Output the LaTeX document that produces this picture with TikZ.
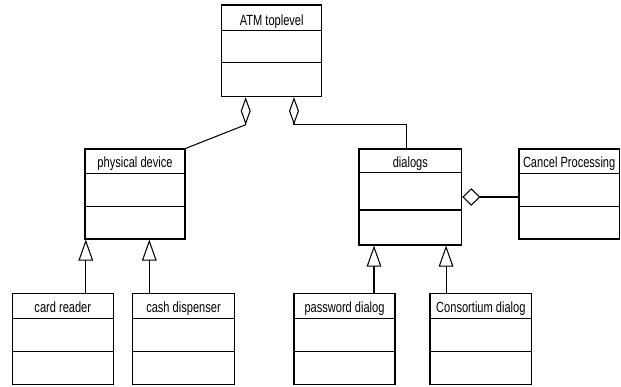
\documentclass[tikz,border=0pt]{standalone}
\usepackage{fontspec}
\newfontfamily\umlfont[FakeStretch=0.75]{Liberation Sans}
\usetikzlibrary{arrows.meta,calc,fit}

% class box: name, left, top, right, bottom, first rule, second rule, title
\newcommand{\umlclass}[8]{%
  \node[classbox, fit={(#2,#3) (#4,#5)}] (#1) {};
  \draw (#2,#6) -- (#4,#6);
  \draw (#2,#7) -- (#4,#7);
  \node[classname] (#1-title) at ({(#2+#4)/2},{#6-5.5}) {#8};
}

\begin{document}
\begin{tikzpicture}[x=0.03cm, y=-0.03cm, line width=0.9pt,
  classbox/.style={draw, inner sep=0pt, rectangle},
  classname/.style={anchor=base, inner sep=0pt, font=\umlfont\fontsize{12.6pt}{14pt}\selectfont},
  aggr/.style={-{Diamond[open, length=23.5pt, width=8.5pt]}},
  aggrh/.style={-{Diamond[open, length=15.5pt, width=15pt]}},
  gen/.style={-{Triangle[open, length=18pt, width=12.5pt]}}]

\fill[white] (0,0) rectangle (621,386);
\useasboundingbox (0,0) rectangle (621,386);

\umlclass{ATM}{221.7}{5}{321.7}{96.7}{30.7}{62.7}{ATM toplevel}
\umlclass{phys}{85}{149}{185}{239}{173.3}{206.7}{physical device}
\umlclass{dlg}{359}{149}{461.7}{245}{172.7}{210}{dialogs}
\umlclass{cancel}{519}{149}{619.3}{239}{173.3}{206.7}{Cancel Processing}
\umlclass{card}{12.3}{293.3}{113.3}{384.3}{318.3}{351.7}{card reader}
\umlclass{cash}{132.7}{293.3}{234.3}{384.3}{318.3}{351.7}{cash dispenser}
\umlclass{pwd}{294}{293.3}{395}{384.3}{318.3}{351.7}{password dialog}
\umlclass{cons}{430}{293.3}{531.7}{384.3}{318.3}{351.7}{Consortium dialog}

% aggregation: parts of the ATM
\draw[aggr] (phys.north east) -- ($(ATM.south)+(-26,27.5)$) -- ($(ATM.south)+(-26,0)$);
\draw[aggr] ($(dlg.north)+(-3.6,0)$) |- ($(ATM.south)+(22.3,27.6)$) -- ($(ATM.south)+(22.3,0)$);
\draw[aggrh] ($(cancel.west)+(0,3)$) -- (dlg.east);

% generalization
\coordinate (g1) at ($(card.north)+(23,0)$);
\coordinate (g2) at ($(cash.north)+(-34.2,0)$);
\coordinate (g3) at ($(pwd.north)+(29.5,0)$);
\coordinate (g4) at ($(cons.north)+(-34.8,0)$);
\draw[gen] (g1) -- (g1 |- phys.south);
\draw[gen] (g2) -- (g2 |- phys.south);
\draw[gen] (g3) -- (g3 |- dlg.south);
\draw[gen] (g4) -- (g4 |- dlg.south);
\end{tikzpicture}
\end{document}
